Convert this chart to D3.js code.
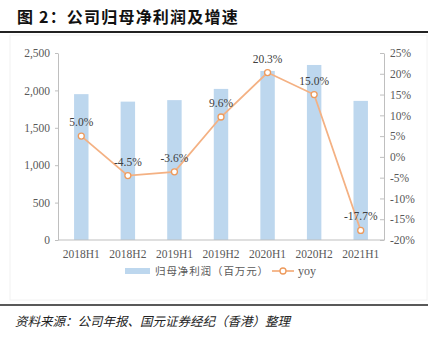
<!DOCTYPE html>
<html><head><meta charset="utf-8">
<script src="https://cdn.jsdelivr.net/npm/d3@7"></script>
<style>body{margin:0;background:#fff}svg{display:block}</style>
</head><body>
<script>
const categories = ["2018H1","2018H2","2019H1","2019H2","2020H1","2020H2","2021H1"];
const profit = [1950, 1850, 1870, 2020, 2260, 2340, 1860];
const yoy = [5.0, -4.5, -3.6, 9.6, 20.3, 15.0, -17.7];
const yoyLabels = ["5.0%","-4.5%","-3.6%","9.6%","20.3%","15.0%","-17.7%"];
const leftTicks = [0, 500, 1000, 1500, 2000, 2500];
const rightTicks = [-20, -15, -10, -5, 0, 5, 10, 15, 20, 25];
const title = "图 2：公司归母净利润及增速";
const legendBar = "归母净利润（百万元）";
const legendLine = "yoy";
const source = "资料来源：公司年报、国元证券经纪（香港）整理";

const W = 430, H = 339;
const svg = d3.select("body").append("svg").attr("width", W).attr("height", H);
const serif = "'Liberation Serif','Times New Roman',serif";
const cjk = "'Noto Sans CJK SC','Noto Sans',sans-serif";

// title
svg.append("text").attr("x", 17).attr("y", 23).text(title)
  .attr("font-family", cjk).attr("font-weight", "bold").attr("font-size", 16).attr("letter-spacing", 1.2).attr("fill", "#111");
svg.append("line").attr("x1", 0).attr("x2", 428).attr("y1", 32).attr("y2", 32)
  .attr("stroke", "#222").attr("stroke-width", 2);

// faint frame
svg.append("rect").attr("x", 10).attr("y", 35).attr("width", 417).attr("height", 265)
  .attr("fill", "none").attr("stroke", "#f2f2f2");

const pLeft = 58, pRight = 384, pTop = 53, pBottom = 240;
const x = d3.scaleBand().domain(categories).range([pLeft, pRight]).paddingInner(0.69).paddingOuter(0.345);
const y = d3.scaleLinear().domain([0, 2500]).range([pBottom, pTop]);
const y2 = d3.scaleLinear().domain([-20, 25]).range([pBottom, pTop]);

// bars
svg.append("g").selectAll("rect").data(profit).join("rect")
  .attr("x", (d, i) => x(categories[i])).attr("width", x.bandwidth())
  .attr("y", d => y(d)).attr("height", d => pBottom - y(d))
  .attr("fill", "#bdd7ee");

// axes
const axisColor = "#bfbfbf";
const gl = svg.append("g").attr("transform", `translate(${pLeft},0)`)
  .call(d3.axisLeft(y).tickValues(leftTicks).tickFormat(d3.format(",")).tickSize(3).tickSizeOuter(0).tickPadding(5));
const gr = svg.append("g").attr("transform", `translate(${pRight},0)`)
  .call(d3.axisRight(y2).tickValues(rightTicks).tickFormat(d => d + "%").tickSize(-4).tickSizeOuter(0).tickPadding(6));
const gx = svg.append("g").attr("transform", `translate(0,${pBottom})`)
  .call(d3.axisBottom(x).tickSize(0).tickPadding(10));
[gl, gr, gx].forEach(g => {
  g.select(".domain").attr("stroke", axisColor);
  g.selectAll(".tick line").attr("stroke", axisColor);
  g.selectAll("text").attr("font-family", serif).attr("font-size", 11.5).attr("fill", "#595959");
});
gx.select(".domain").attr("d", `M${pLeft},0H${pRight}`);

// line
const cx = (d, i) => x(categories[i]) + x.bandwidth() / 2;
const line = d3.line().x(cx).y(d => y2(d));
svg.append("path").datum(yoy).attr("d", line).attr("fill", "none")
  .attr("stroke", "#f4b183").attr("stroke-width", 1.8);
svg.append("g").selectAll("circle").data(yoy).join("circle")
  .attr("cx", cx).attr("cy", d => y2(d)).attr("r", 3)
  .attr("fill", "#fff").attr("stroke", "#ed9a5c").attr("stroke-width", 1.3);
svg.append("g").selectAll("text").data(yoy).join("text")
  .attr("x", cx).attr("y", d => y2(d) - 10).attr("text-anchor", "middle")
  .text((d, i) => yoyLabels[i])
  .attr("font-family", serif).attr("font-size", 11.5).attr("fill", "#404040");

// legend
const lg = svg.append("g");
lg.append("rect").attr("x", 125).attr("y", 268).attr("width", 25).attr("height", 6).attr("fill", "#bdd7ee");
lg.append("text").attr("x", 155).attr("y", 275).text(legendBar)
  .attr("font-family", cjk).attr("font-size", 10.5).attr("letter-spacing", 0.9).attr("fill", "#595959");
lg.append("line").attr("x1", 272).attr("x2", 294).attr("y1", 271).attr("y2", 271)
  .attr("stroke", "#f4b183").attr("stroke-width", 1.8);
lg.append("circle").attr("cx", 283).attr("cy", 271).attr("r", 3)
  .attr("fill", "#fff").attr("stroke", "#ed9a5c").attr("stroke-width", 1.3);
lg.append("text").attr("x", 298).attr("y", 275).text(legendLine)
  .attr("font-family", serif).attr("font-size", 12).attr("fill", "#595959");

// footer
svg.append("line").attr("x1", 0).attr("x2", 428).attr("y1", 305).attr("y2", 305)
  .attr("stroke", "#222").attr("stroke-width", 1.5);
svg.append("text").attr("x", 15).attr("y", 326).text(source)
  .attr("font-family", cjk).attr("font-style", "italic").attr("font-size", 12.5).attr("fill", "#222");
</script>
</body></html>
